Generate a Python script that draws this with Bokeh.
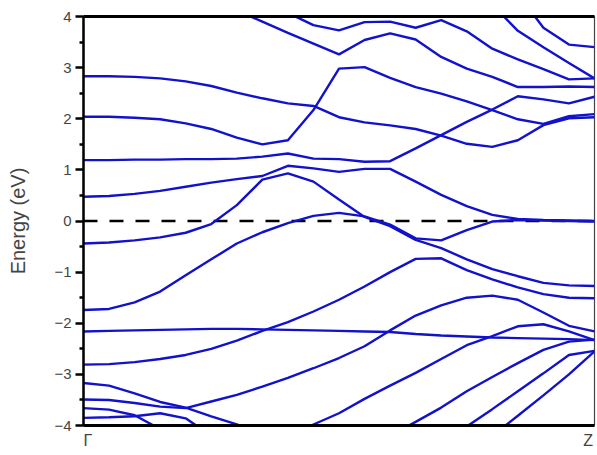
import math
from bokeh.plotting import figure
from bokeh.models import Range1d, FixedTicker, Span, LinearAxis
from bokeh.embed import file_html
from bokeh.resources import INLINE

nan = float("nan")

# k-point index along the path Gamma -> Z
k_index = [0, 1, 2, 3, 4, 5, 6, 7, 8, 9, 10, 11, 12, 13, 14, 15, 16, 17, 18, 19, 20]
k_labels = ["\u00a0\u00a0\u0393", "Z\u00a0"]
y_ticks = [-4, -3, -2, -1, 0, 1, 2, 3, 4]
y_minor = [-3.5, -2.5, -1.5, -0.5, 0.5, 1.5, 2.5, 3.5]
fermi_level = 0.0

band_a = [nan] * 7 + [4.35, 4.07, 3.83, 3.73, 3.89, 3.90, 3.78, 3.93, 3.71, 3.37, 3.16, 2.97, 2.77, 2.79]
band_b = [nan] * 4 + [4.55, 4.33, 4.12, 3.90, 3.68, 3.47, 3.26, 3.54, 3.67, 3.55, 3.21, 2.98, 2.82, 2.62, 2.62, 2.63, 2.62]
band_c = [nan] * 15 + [4.5, 4.23, 3.72, 3.40, 3.09, 2.79]
band_d = [nan] * 16 + [4.7, 4.44, 3.78, 3.45, 3.40]
band_283 = [2.83, 2.83, 2.82, 2.79, 2.73, 2.64, 2.51, 2.40, 2.30, 2.25, 2.03, 1.93, 1.87, 1.80, 1.67, 1.51, 1.45, 1.58, 1.875, 2.01, 2.03]
band_205 = [2.04, 2.04, 2.02, 1.99, 1.91, 1.80, 1.63, 1.50, 1.58, 2.17, 2.98, 3.01, 2.80, 2.62, 2.49, 2.34, 2.17, 1.99, 1.90, 2.05, 2.09]
band_119 = [1.19, 1.19, 1.20, 1.20, 1.21, 1.21, 1.22, 1.26, 1.32, 1.22, 1.21, 1.16, 1.17, 1.42, 1.68, 1.94, 2.18, 2.44, 2.38, 2.30, 2.43]
band_047 = [0.475, 0.49, 0.53, 0.59, 0.67, 0.75, 0.82, 0.88, 1.08, 1.03, 0.96, 1.02, 1.02, 0.77, 0.51, 0.29, 0.12, 0.04, 0.02, 0.01, 0.0]
band_m043 = [-0.44, -0.42, -0.38, -0.32, -0.23, -0.06, 0.31, 0.81, 0.93, 0.77, 0.42, 0.08, -0.10, -0.37, -0.53, -0.75, -0.94, -1.08, -1.21, -1.26, -1.27]
band_m174 = [-1.74, -1.72, -1.59, -1.38, -1.06, -0.75, -0.44, -0.22, -0.04, 0.10, 0.16, 0.09, -0.07, -0.34, -0.38, -0.18, -0.01, 0.02, 0.01, 0.0, -0.01]
band_m216 = [-2.16, -2.15, -2.14, -2.13, -2.12, -2.11, -2.11, -2.12, -2.13, -2.14, -2.15, -2.16, -2.17, -2.21, -2.24, -2.26, -2.28, -2.29, -2.30, -2.31, -2.33]
band_m281 = [-2.81, -2.80, -2.76, -2.70, -2.62, -2.50, -2.34, -2.15, -1.98, -1.77, -1.54, -1.28, -1.00, -0.74, -0.73, -0.96, -1.14, -1.30, -1.43, -1.50, -1.51]
band_m317 = [-3.17, -3.22, -3.37, -3.54, -3.65, -3.82, -3.98, -4.15] + [nan] * 13
band_m349 = [-3.49, -3.50, -3.56, -3.63, -3.66, -3.53, -3.40, -3.24, -3.07, -2.88, -2.68, -2.45, -2.14, -1.85, -1.65, -1.50, -1.46, -1.54, -1.79, -2.05, -2.16]
band_m366 = [-3.66, -3.69, -3.80, -4.07, -4.3] + [nan] * 16
band_m385 = [-3.85, -3.84, -3.82, -3.76, -3.86, -4.2] + [nan] * 15
band_low1 = [nan] * 8 + [-4.25, -3.98, -3.76, -3.48, -3.22, -2.97, -2.70, -2.43, -2.25, -2.06, -2.02, -2.16, -2.33]
band_low2 = [nan] * 12 + [-4.2, -3.93, -3.65, -3.33, -3.05, -2.78, -2.52, -2.36, -2.32]
band_low3 = [nan] * 14 + [-4.4, -4.02, -3.68, -3.33, -2.98, -2.62, -2.54]
band_low4 = [nan] * 15 + [-4.6, -4.2, -3.81, -3.41, -3.0, -2.55]

bands = [band_a, band_b, band_c, band_d, band_283, band_205, band_119, band_047,
         band_m043, band_m174, band_m216, band_m281, band_m317, band_m349,
         band_m366, band_m385, band_low1, band_low2, band_low3, band_low4]

BLUE = "#1212CC"

p = figure(width=597, height=455, output_backend="svg", toolbar_location=None,
           x_range=Range1d(k_index[0], k_index[-1]), y_range=Range1d(y_ticks[0], y_ticks[-1]),
           min_border_left=83, min_border_right=3, min_border_top=16, min_border_bottom=30,
           x_axis_type=None, y_axis_type=None)
p.grid.visible = False
p.outline_line_color = "#444444"
p.outline_line_width = 1.2
p.background_fill_color = "white"
p.border_fill_color = "white"

# left axis
yax = LinearAxis(ticker=FixedTicker(ticks=y_ticks, minor_ticks=y_minor))
yax.axis_label = "Energy (eV)"
yax.axis_label_text_font = "Liberation Sans"
yax.axis_label_text_font_style = "normal"
yax.axis_label_text_font_size = "20px"
yax.axis_label_standoff = 22
yax.major_label_text_font = "Liberation Sans"
yax.major_label_text_font_size = "15px"
yax.major_label_standoff = 4
yax.axis_line_width = 2.5
yax.major_tick_line_width = 2.5
yax.minor_tick_line_width = 2.5
yax.major_tick_out = 8
yax.major_tick_in = 0
yax.minor_tick_out = 4
yax.minor_tick_in = 0
p.add_layout(yax, "left")

# bottom axis: high-symmetry point labels, no tick marks
xax = LinearAxis(ticker=FixedTicker(ticks=[k_index[0], k_index[-1]], minor_ticks=[]))
xax.major_label_overrides = {k_index[0]: k_labels[0], k_index[-1]: k_labels[1]}
xax.axis_line_width = 3
xax.major_tick_line_color = None
xax.minor_tick_line_color = None
xax.major_tick_out = 0
xax.major_label_standoff = 6
xax.major_label_text_font = "Liberation Sans"
xax.major_label_text_font_size = "16px"
p.add_layout(xax, "below")

# top frame line
tax = LinearAxis(ticker=FixedTicker(ticks=[], minor_ticks=[]))
tax.axis_line_width = 3
tax.major_tick_line_color = None
tax.minor_tick_line_color = None
tax.major_label_text_font_size = "0px"
p.add_layout(tax, "above")

p.add_layout(Span(location=fermi_level, dimension="width", line_color="black",
                  line_width=2.5, line_dash="14 12", level="underlay"))

for b in bands:
    p.line(k_index, b, line_color=BLUE, line_width=2.4)

open("out.html", "w").write(file_html(p, INLINE))
